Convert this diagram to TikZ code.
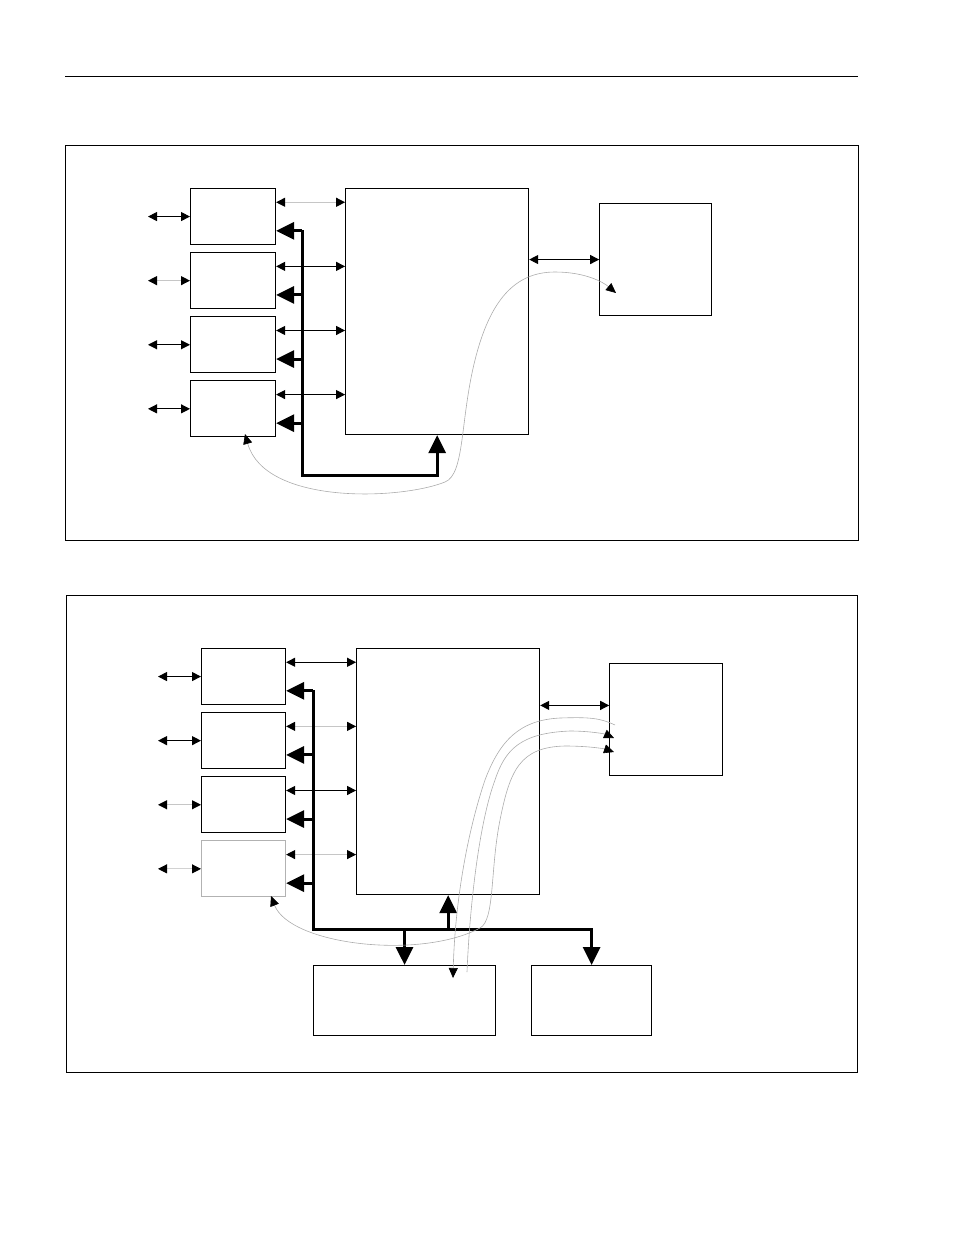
\documentclass[tikz,border=0pt]{standalone}
\usepackage{tikz}
\usetikzlibrary{positioning,calc,arrows.meta}

\begin{document}
\begin{tikzpicture}[
    x=1pt, y=-1pt,
    frame/.style={draw=black, line width=0.9pt},
    unit/.style={
      rectangle, draw=black, line width=1.1pt, inner sep=0pt,
      minimum width=85pt, minimum height=56pt
    },
    core/.style={
      rectangle, draw=black, line width=1.1pt, inner sep=0pt,
      minimum width=183pt, minimum height=246pt
    },
    periph/.style={
      rectangle, draw=black, line width=1.1pt, inner sep=0pt,
      minimum width=112pt, minimum height=112pt
    },
    mem/.style={
      rectangle, draw=black, line width=1.1pt, inner sep=0pt,
      minimum height=70pt
    },
    dbl/.style={
      {Triangle[length=9pt,width=9pt,color=black]}-{Triangle[length=9pt,width=9pt,color=black]},
      line width=1pt
    },
    busarrow/.style={-{Triangle[length=18pt,width=17pt]}, line width=3pt},
    flow/.style={gray!65, line width=0.6pt},
    tipr/.style={-{Triangle[length=10pt,width=9pt,color=black]}},
    tipb/.style={
      {Triangle[length=10pt,width=9pt,color=black]}-{Triangle[length=10pt,width=9pt,color=black]}
    },
  ]
  \useasboundingbox (0,0) rectangle (954,1235);

  %% Rule and frames
  \draw[line width=1pt] (65,76) -- (858,76);
  \draw[frame] (65,145) rectangle (858,540);
  \draw[frame] (66,595) rectangle (857,1072);

  %% Upper diagram: nodes
  \node[unit, anchor=north west] (u1) at (190,188) {};
  \node[unit, below=7pt of u1] (u2) {};
  \node[unit, below=7pt of u2] (u3) {};
  \node[unit, below=7pt of u3] (u4) {};
  \node[core, right=69pt of u1.north east, anchor=north west] (m1) {};
  \node[periph, right=70pt of m1.north east, anchor=north west, yshift=-15pt] (r1) {};

  %% Upper diagram: links
  \foreach \i/\c in {1/gray!45,2/black,3/black,4/black}{
    \coordinate (a\i) at ($(u\i.north east)!.25!(u\i.south east)$);
    \draw[dbl,\c] (a\i) -- (a\i -| m1.west);
  }
  \foreach \i/\c in {1/black,2/gray!45,3/black,4/black}{
    \coordinate[left=42pt of u\i.west] (l\i);
    \draw[dbl,\c] (l\i) -- (u\i.west);
  }
  \draw[dbl] (r1.west -| m1.east) -- (r1.west);

  %% Upper diagram: bus
  \coordinate (bt1) at (302,230);
  \coordinate (bc1) at (302,475);
  \draw[busarrow] (bt1) -- (bc1) -| (m1.south);
  \foreach \i in {1,...,4}{
    \coordinate (t\i) at ($(u\i.north east)!.75!(u\i.south east)$);
    \draw[busarrow] (t\i -| bt1) -- (t\i);
  }

  %% Upper diagram: flow
  \coordinate (fs1) at (245,434);
  \coordinate (fe1) at (616,293);
  \draw[flow, tipb] (fs1) .. controls (265,505) and (400,500) .. (445,482)
    .. controls (465,474) and (460,420) .. (475,360)
    .. controls (490,300) and (515,272) .. (555,272)
    .. controls (585,272) and (603,282) .. (fe1);

  %% Lower diagram: nodes
  \node[unit, minimum width=84pt, anchor=north west] (u5) at (201,648) {};
  \node[unit, minimum width=84pt, below=7pt of u5] (u6) {};
  \node[unit, minimum width=84pt, below=7pt of u6] (u7) {};
  \node[unit, minimum width=84pt, draw=gray!60, below=7pt of u7] (u8) {};
  \node[core, right=70pt of u5.north east, anchor=north west] (m2) {};
  \node[periph, minimum width=113pt, right=69pt of m2.north east, anchor=north west, yshift=-15pt] (r2) {};
  \node[mem, minimum width=182pt, anchor=north west] (b1) at (313,965) {};
  \node[mem, minimum width=120pt, right=35pt of b1] (b2) {};

  %% Lower diagram: links
  \foreach \i/\c in {5/black,6/gray!45,7/black,8/gray!45}{
    \coordinate (a\i) at ($(u\i.north east)!.25!(u\i.south east)$);
    \draw[dbl,\c] (a\i) -- (a\i -| m2.west);
  }
  \foreach \i/\c in {5/black,6/black,7/gray!45,8/gray!35}{
    \coordinate[left=43pt of u\i.west] (l\i);
    \draw[dbl,\c] (l\i) -- (u\i.west);
  }
  \coordinate (rr) at ($(r2.north west)!.375!(r2.south west)$);
  \draw[dbl] (rr -| m2.east) -- (rr);

  %% Lower diagram: bus
  \coordinate (bt2) at (313,690);
  \coordinate (bc2) at (313,929);
  \draw[busarrow] (bt2) -- (bc2) -| (b2.north);
  \draw[busarrow] (bc2 -| b1.north) -- (b1.north);
  \draw[busarrow] (bc2 -| m2.south) -- (m2.south);
  \foreach \i in {5,...,8}{
    \coordinate (t\i) at ($(u\i.north east)!.75!(u\i.south east)$);
    \draw[busarrow] (t\i -| bt2) -- (t\i);
  }

  %% Lower diagram: flows
  \coordinate (fs2) at (615,725);
  \coordinate (fe2) at (453,978);
  \draw[flow, tipr] (fs2) .. controls (600,718) and (590,717) .. (560,718)
    .. controls (520,720) and (500,740) .. (485,780)
    .. controls (468,830) and (455,900) .. (fe2);
  \coordinate (fs3) at (467,972);
  \coordinate (fe3) at (614,738);
  \draw[flow, tipr] (fs3) .. controls (470,900) and (480,820) .. (495,780)
    .. controls (505,750) and (520,733) .. (570,731)
    .. controls (590,731) and (605,734) .. (fe3);
  \coordinate (fs4) at (271,896);
  \coordinate (fe4) at (614,752);
  \draw[flow, tipb] (fs4) .. controls (290,945) and (420,960) .. (480,928)
    .. controls (495,920) and (490,870) .. (500,820)
    .. controls (510,770) and (520,747) .. (565,746)
    .. controls (590,746) and (605,749) .. (fe4);

\end{tikzpicture}
\end{document}
